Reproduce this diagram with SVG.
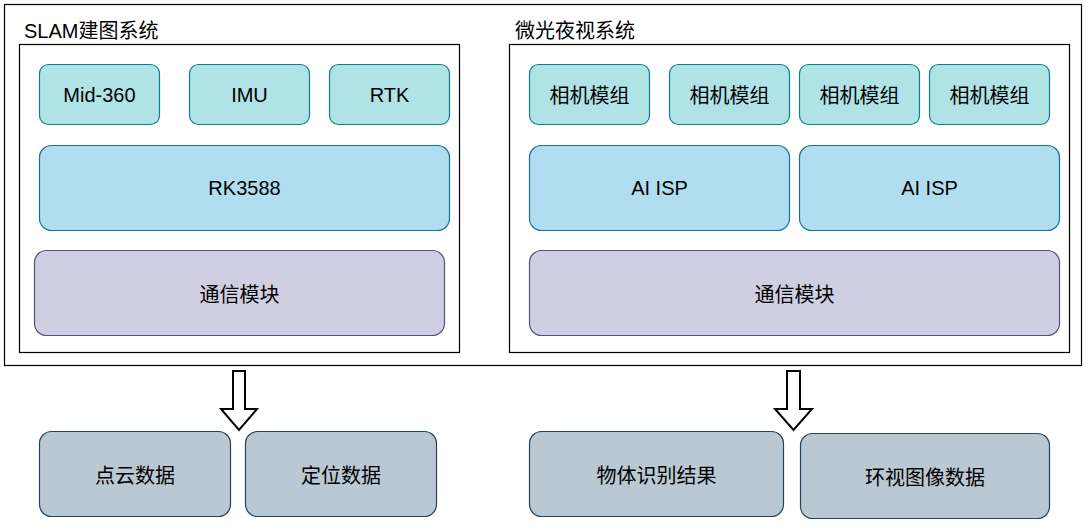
<svg xmlns="http://www.w3.org/2000/svg" width="1088" height="528" viewBox="0 0 1088 528">
<style>
text{font-family:"Liberation Sans","Noto Sans CJK SC",sans-serif;font-size:20px;fill:#000}
.c{text-anchor:middle}
.frame{fill:#fff;stroke:#000;stroke-width:1.2}
.sensor{fill:#b0e3e6;stroke:#0e8088;stroke-width:1.2}
.proc{fill:#b1ddf0;stroke:#10739e;stroke-width:1.2}
.comm{fill:#d0cee2;stroke:#56517e;stroke-width:1.2}
.out{fill:#bac8d3;stroke:#23445d;stroke-width:1.2}
.arrow{fill:#fff;stroke:#000;stroke-width:2;stroke-linejoin:miter}
</style>
<rect width="1088" height="528" fill="#fff"/>
<g id="outer"><rect class="frame" x="4.5" y="4.5" width="1077" height="361"/></g>
<g id="slam-system">
<rect class="frame" x="19.5" y="44.5" width="440" height="308"/>
<text x="24" y="38">SLAM建图系统</text>
</g>
<g id="nv-system">
<rect class="frame" x="509.5" y="44.5" width="560" height="308"/>
<text x="515" y="38">微光夜视系统</text>
</g>
<g id="mid360"><rect class="sensor" x="39.5" y="64.5" width="120" height="60" rx="9"/><text class="c" x="99.5" y="102">Mid-360</text></g>
<g id="imu"><rect class="sensor" x="189.5" y="64.5" width="120" height="60" rx="9"/><text class="c" x="249.5" y="102">IMU</text></g>
<g id="rtk"><rect class="sensor" x="329.5" y="64.5" width="120" height="60" rx="9"/><text class="c" x="389.5" y="102">RTK</text></g>
<g id="rk3588"><rect class="proc" x="39.5" y="145.5" width="410" height="85" rx="12"/><text class="c" x="244.5" y="195">RK3588</text></g>
<g id="comm-left"><rect class="comm" x="34.5" y="250.5" width="410" height="85" rx="12"/><text class="c" x="239.5" y="302">通信模块</text></g>
<g id="cam1"><rect class="sensor" x="529.5" y="64.5" width="120" height="60" rx="9"/><text class="c" x="589.5" y="102.5">相机模组</text></g>
<g id="cam2"><rect class="sensor" x="669.5" y="64.5" width="120" height="60" rx="9"/><text class="c" x="729.5" y="102.5">相机模组</text></g>
<g id="cam3"><rect class="sensor" x="799.5" y="64.5" width="120" height="60" rx="9"/><text class="c" x="859.5" y="102.5">相机模组</text></g>
<g id="cam4"><rect class="sensor" x="929.5" y="64.5" width="120" height="60" rx="9"/><text class="c" x="989.5" y="102.5">相机模组</text></g>
<g id="aiisp1"><rect class="proc" x="529.5" y="145.5" width="260" height="85" rx="12"/><text class="c" x="659.5" y="195">AI ISP</text></g>
<g id="aiisp2"><rect class="proc" x="799.5" y="145.5" width="260" height="85" rx="12"/><text class="c" x="929.5" y="195">AI ISP</text></g>
<g id="comm-right"><rect class="comm" x="529.5" y="250.5" width="530" height="85" rx="12"/><text class="c" x="794.5" y="302">通信模块</text></g>
<g id="pointcloud"><rect class="out" x="39.5" y="431.5" width="191" height="85" rx="12"/><text class="c" x="135" y="483">点云数据</text></g>
<g id="position"><rect class="out" x="245.5" y="431.5" width="191" height="85" rx="12"/><text class="c" x="341" y="483">定位数据</text></g>
<g id="detect"><rect class="out" x="529.5" y="431.5" width="254" height="85" rx="12"/><text class="c" x="656.5" y="483">物体识别结果</text></g>
<g id="surround"><rect class="out" x="800.5" y="433.5" width="249" height="85" rx="12"/><text class="c" x="925" y="485">环视图像数据</text></g>
<g id="connectors">
<path class="arrow" d="M233,371 H245 V409 H257 L239,430 L221,409 H233 Z"/>
<path class="arrow" d="M787,371 H800 V409 H812 L793.5,430 L775,409 H787 Z"/>
</g>
</svg>
